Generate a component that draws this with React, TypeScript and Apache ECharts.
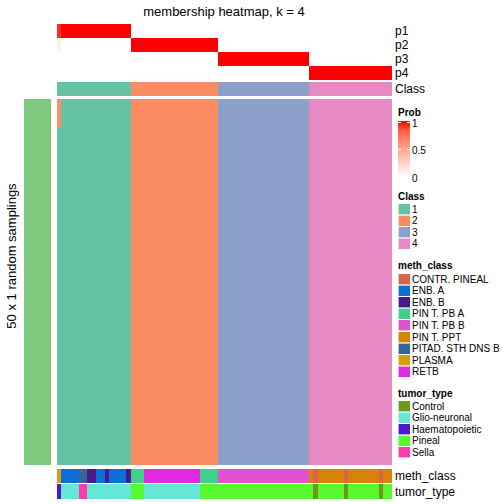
import React, { useEffect, useRef } from 'react';
import * as echarts from 'echarts';

const chartTitle = 'membership heatmap, k = 4';
const rowTitle = '50 x 1 random samplings';
const rowBlockLabel = 'top 1000 rows';

const classNames = ['1', '2', '3', '4'];
const classColors = ['#66C2A5', '#FC8D62', '#8DA0CB', '#E78AC3'];
// [class index, number of columns]
const classRuns: [number, number][] = [[0, 17], [1, 20], [2, 21], [3, 19]];

const probRowNames = ['p1', 'p2', 'p3', 'p4'];
const probTicks = ['1', '0.5', '0'];
const probColors = ['#FFFFFF', '#FFE2D8', '#FFC5B2', '#FFA68C', '#FF8566', '#FF5C3E', '#FF0000'];

const nSamplings = 50;
// [column, sampling row, class index] cells that differ from the column's class
const samplingDeviations: [number, number, number][] = [[0, 0, 1], [0, 1, 1], [0, 2, 1], [0, 3, 1]];

const methNames = ['CONTR. PINEAL', 'ENB. A', 'ENB. B', 'PIN T. PB A', 'PIN T. PB B', 'PIN T. PPT', 'PITAD. STH DNS B', 'PLASMA', 'RETB'];
const methColors = ['#D9644A', '#0A6FD6', '#4A1A8A', '#40D08A', '#E052D0', '#D9820A', '#35669A', '#D4A012', '#E02AE0'];
const methRuns: [number, number][] = [
  [7, 1], [1, 4], [6, 2], [2, 2], [1, 2], [2, 1], [1, 4], [2, 1],
  [3, 3], [8, 13], [3, 4],
  [4, 21],
  [5, 1], [0, 1], [5, 6], [0, 1], [5, 7], [0, 1], [5, 2],
];

const tumorNames = ['Control', 'Glio-neuronal', 'Haematopoietic', 'Pineal', 'Sella'];
const tumorColors = ['#6B9A1A', '#66E6D6', '#4A1AD0', '#58F830', '#FF3AAE'];
const tumorRuns: [number, number][] = [
  [2, 1], [1, 4], [4, 2], [1, 10],
  [3, 3], [1, 13], [3, 4],
  [3, 21],
  [3, 1], [0, 1], [3, 6], [0, 1], [3, 7], [0, 1], [3, 2],
];

const rowBlockColor = '#7FC97F';
const FONT = '"Liberation Sans", Arial, Helvetica, sans-serif';

function expand(runs: [number, number][]): number[] {
  const out: number[] = [];
  runs.forEach(([v, n]) => {
    for (let i = 0; i < n; i++) out.push(v);
  });
  return out;
}

function buildOption() {
  const colClass = expand(classRuns);
  const colMeth = expand(methRuns);
  const colTumor = expand(tumorRuns);
  const nCols = colClass.length;
  const cols = colClass.map((_, i) => String(i));
  const samplingRows = Array.from({ length: nSamplings }, (_, i) => String(i + 1));

  const matrix: number[][] = samplingRows.map(() => colClass.slice());
  samplingDeviations.forEach(([c, r, k]) => {
    matrix[r][c] = k;
  });

  const probData: number[][] = [];
  for (let k = 0; k < probRowNames.length; k++) {
    for (let c = 0; c < nCols; c++) {
      let cnt = 0;
      for (let r = 0; r < nSamplings; r++) if (matrix[r][c] === k) cnt++;
      probData.push([c, k, cnt / nSamplings]);
    }
  }

  const classData = colClass.map((k, c) => [c, 0, k]);
  const mainData: number[][] = [];
  matrix.forEach((row, r) => row.forEach((k, c) => mainData.push([c, r, k])));
  const methData = colMeth.map((k, c) => [c, 0, k]);
  const tumorData = colTumor.map((k, c) => [c, 0, k]);

  const L = 57;
  const W = 335;
  const grids = [
    { left: L, width: W, top: 24, height: 56 },
    { left: L, width: W, top: 82, height: 14 },
    { left: L, width: W, top: 99, height: 366 },
    { left: L, width: W, top: 469, height: 14 },
    { left: L, width: W, top: 484, height: 15 },
    { left: 24, width: 27, top: 99, height: 366 },
  ];

  const hiddenX = (gi: number, data: string[]) => ({
    type: 'category', gridIndex: gi, data, show: false,
  });
  const labelY = (gi: number, data: string[], inverse = false) => ({
    type: 'category', gridIndex: gi, data, inverse, position: 'right',
    axisLine: { show: false }, axisTick: { show: false }, splitLine: { show: false },
    axisLabel: { show: true, interval: 0, fontSize: 12, color: '#000', margin: 3, fontFamily: FONT },
  });
  const hiddenY = (gi: number, data: string[], inverse = false) => ({
    type: 'category', gridIndex: gi, data, inverse, show: false,
  });

  const catMap = (seriesIndex: number, colors: string[]) => ({
    type: 'piecewise', show: false, seriesIndex, dimension: 2,
    pieces: colors.map((color, k) => ({ value: k, color })),
  });

  const graphics: any[] = [];
  const txt = (text: string, x: number, y: number, size: number, extra: any = {}) => ({
    type: 'text', x, y, silent: true, rotation: extra.rotation || 0,
    style: {
      text, fill: '#000', fontSize: size, fontFamily: FONT,
      align: extra.align || 'left', verticalAlign: 'middle',
      textAlign: extra.align || 'left', textVerticalAlign: 'middle',
      fontWeight: extra.bold ? 'bold' : 'normal',
    },
  });

  graphics.push(txt(chartTitle, 224, 11, 13, { align: 'center' }));
  graphics.push(txt(rowTitle, 11, 256, 13, { align: 'center', rotation: Math.PI / 2 }));
  graphics.push(txt(rowBlockLabel, 38, 276, 9, { align: 'center', rotation: Math.PI / 2 }));

  const LX = 398;
  const boxW = 12;
  const step = 11.6;
  graphics.push(txt('Prob', LX, 112, 10, { bold: true }));
  graphics.push({
    type: 'rect', silent: true,
    shape: { x: LX, y: 121, width: boxW, height: 56 },
    style: {
      fill: {
        type: 'linear', x: 0, y: 0, x2: 0, y2: 1,
        colorStops: probColors.slice().reverse().map((c, i, a) => ({ offset: i / (a.length - 1), color: c })),
      },
    },
  });
  probTicks.forEach((t, i) => {
    const yy = 122 + i * 27.5;
    graphics.push(txt(t, LX + 14, yy + 1, 10));
    if (i < 2) {
      graphics.push({ type: 'line', silent: true, shape: { x1: LX, y1: yy, x2: LX + 3, y2: yy }, style: { stroke: '#fff', lineWidth: 1 } });
      graphics.push({ type: 'line', silent: true, shape: { x1: LX + 9, y1: yy, x2: LX + 12, y2: yy }, style: { stroke: '#fff', lineWidth: 1 } });
    }
  });

  const discreteLegend = (titleText: string, names: string[], colors: string[], titleY: number, firstY: number) => {
    graphics.push(txt(titleText, LX, titleY, 10, { bold: true }));
    names.forEach((n, i) => {
      const cy = firstY + i * step;
      graphics.push({
        type: 'rect', silent: true,
        shape: { x: LX, y: cy - 5.5, width: boxW, height: 11 },
        style: { fill: colors[i], stroke: '#fff', lineWidth: 0.6 },
      });
      graphics.push(txt(n, LX + 14, cy, 10));
    });
  };
  discreteLegend('Class', classNames, classColors, 196, 209);
  discreteLegend('meth_class', methNames, methColors, 265, 279);
  discreteLegend('tumor_type', tumorNames, tumorColors, 393, 406);

  return {
    animation: false,
    backgroundColor: '#fff',
    textStyle: { fontFamily: FONT },
    grid: grids,
    xAxis: [
      hiddenX(0, cols), hiddenX(1, cols), hiddenX(2, cols), hiddenX(3, cols), hiddenX(4, cols), hiddenX(5, ['0']),
    ],
    yAxis: [
      labelY(0, probRowNames, true),
      labelY(1, ['Class']),
      hiddenY(2, samplingRows, true),
      labelY(3, ['meth_class']),
      labelY(4, ['tumor_type']),
      hiddenY(5, ['0']),
    ],
    visualMap: [
      {
        type: 'continuous', show: false, seriesIndex: 0, min: 0, max: 1, dimension: 2,
        inRange: { color: probColors },
      },
      catMap(1, classColors),
      catMap(2, classColors),
      catMap(3, methColors),
      catMap(4, tumorColors),
      catMap(5, [rowBlockColor]),
    ],
    series: [
      { type: 'heatmap', xAxisIndex: 0, yAxisIndex: 0, data: probData, silent: true },
      { type: 'heatmap', xAxisIndex: 1, yAxisIndex: 1, data: classData, silent: true },
      { type: 'heatmap', xAxisIndex: 2, yAxisIndex: 2, data: mainData, silent: true },
      { type: 'heatmap', xAxisIndex: 3, yAxisIndex: 3, data: methData, silent: true },
      { type: 'heatmap', xAxisIndex: 4, yAxisIndex: 4, data: tumorData, silent: true },
      { type: 'heatmap', xAxisIndex: 5, yAxisIndex: 5, data: [[0, 0, 0]], silent: true },
    ],
    graphic: graphics,
  };
}

export default function App() {
  const ref = useRef<HTMLDivElement>(null);
  useEffect(() => {
    if (!ref.current) return;
    const chart = echarts.init(ref.current, undefined, { renderer: 'svg' });
    chart.setOption(buildOption() as any);
    return () => chart.dispose();
  }, []);
  return (
    <>
      <style>{'.hm-root svg path { shape-rendering: crispEdges; }'}</style>
      <div
        ref={ref}
        className="hm-root"
        style={{ position: 'fixed', left: 0, top: 0, width: 504, height: 504, background: '#fff' }}
      />
    </>
  );
}
